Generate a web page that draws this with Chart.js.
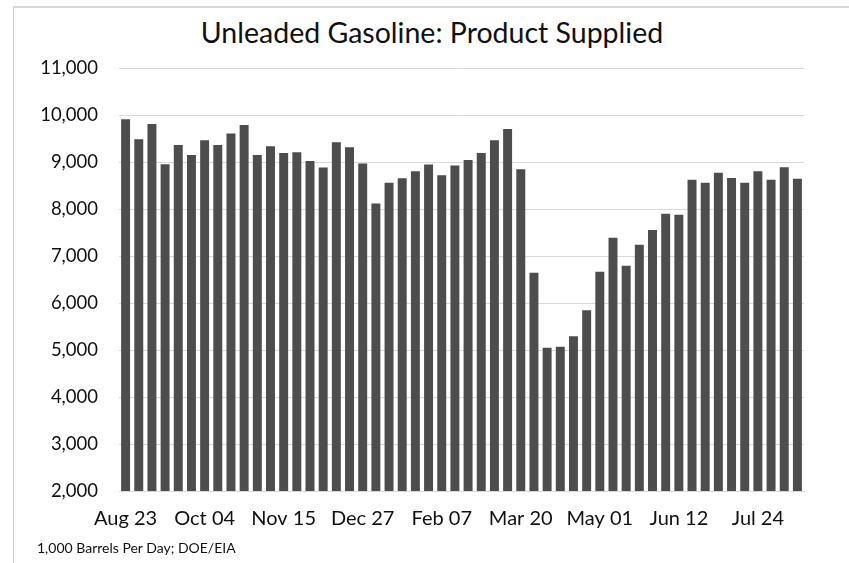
<!DOCTYPE html>
<html>
<head>
<meta charset="utf-8">
<script src="https://cdn.jsdelivr.net/npm/chart.js@4/dist/chart.umd.min.js"></script>
<style>
  html, body { margin: 0; padding: 0; background: #fff; }
  body { width: 849px; height: 563px; position: relative; overflow: hidden; font-family: Lato, sans-serif; }
  #frame {
    position: absolute; left: 13px; top: 6px; width: 840px; height: 570px;
    border-left: 1px solid #cfcfcf; border-top: 2px solid #d6d6d6;
  }
  #wrap { position: absolute; left: 0; top: 0; width: 849px; height: 563px; }
  #title {
    position: absolute; left: 0; width: 864px; top: 15px; line-height: 34px;
    text-align: center; font-size: 28.5px; color: #111;
  }
  #footer {
    position: absolute; left: 37px; top: 539px; font-size: 14px; color: #111;
  }
</style>
</head>
<body>
<div id="frame"></div>
<div id="title">Unleaded Gasoline: Product Supplied</div>
<div id="wrap"><canvas id="chart"></canvas></div>
<div id="footer">1,000 Barrels Per Day; DOE/EIA</div>
<script>
// weekly dates, Aug 2019 - Aug 2020
const weeks = [
  "Aug 23", "Aug 30", "Sep 06", "Sep 13", "Sep 20", "Sep 27",
  "Oct 04", "Oct 11", "Oct 18", "Oct 25", "Nov 01", "Nov 08",
  "Nov 15", "Nov 22", "Nov 29", "Dec 06", "Dec 13", "Dec 20",
  "Dec 27", "Jan 03", "Jan 10", "Jan 17", "Jan 24", "Jan 31",
  "Feb 07", "Feb 14", "Feb 21", "Feb 28", "Mar 06", "Mar 13",
  "Mar 20", "Mar 27", "Apr 03", "Apr 10", "Apr 17", "Apr 24",
  "May 01", "May 08", "May 15", "May 22", "May 29", "Jun 05",
  "Jun 12", "Jun 19", "Jun 26", "Jul 03", "Jul 10", "Jul 17",
  "Jul 24", "Jul 31", "Aug 07", "Aug 14"
];

// 1,000 barrels per day
const supplied = [
  9908, 9484, 9809, 8953, 9363, 9151,
  9462, 9363, 9604, 9788, 9151, 9335,
  9193, 9208, 9023, 8882, 9420, 9314,
  8967, 8117, 8556, 8655, 8804, 8945,
  8720, 8924, 9045, 9193, 9462, 9703,
  8847, 6645, 5047, 5068, 5293, 5845,
  6667, 7389, 6794, 7240, 7552, 7898,
  7877, 8620, 8556, 8769, 8662, 8556,
  8804, 8620, 8889, 8641
];

const yMin = 2000;
const yMax = 11000;
const yStep = 1000;
const labelEvery = 6;

new Chart(document.getElementById("chart").getContext("2d"), {
  type: "bar",
  data: {
    labels: weeks,
    datasets: [{
      label: "Product Supplied",
      data: supplied,
      backgroundColor: "#4d4d4d",
      borderWidth: 0,
      barPercentage: 0.68,
      categoryPercentage: 1.0,
    }],
  },
  options: {
    responsive: true,
    maintainAspectRatio: false,
    animation: false,
    layout: { padding: { left: 17, right: 45, top: 68, bottom: 16 } },
    plugins: {
      legend: { display: false },
      tooltip: { enabled: false },
      title: { display: false },
    },
    scales: {
      x: {
        grid: { display: false, drawTicks: false },
        border: { color: "#d9d9d9", width: 1 },
        ticks: {
          autoSkip: false,
          maxRotation: 0,
          padding: 16,
          color: "#111",
          font: { family: "Lato", size: 20 },
          callback: function (val, i) {
            return i % labelEvery === 0 ? this.getLabelForValue(val) : "";
          },
        },
      },
      y: {
        min: yMin,
        max: yMax,
        // fixed axis width so the plot starts where the original does
        afterFit: (scale) => { scale.width = 102; },
        grid: { color: "#d9d9d9", drawTicks: false },
        border: { display: false },
        ticks: {
          stepSize: yStep,
          padding: 21,
          color: "#111",
          font: { family: "Lato", size: 18.5 },
        },
      },
    },
  },
});
</script>
</body>
</html>
